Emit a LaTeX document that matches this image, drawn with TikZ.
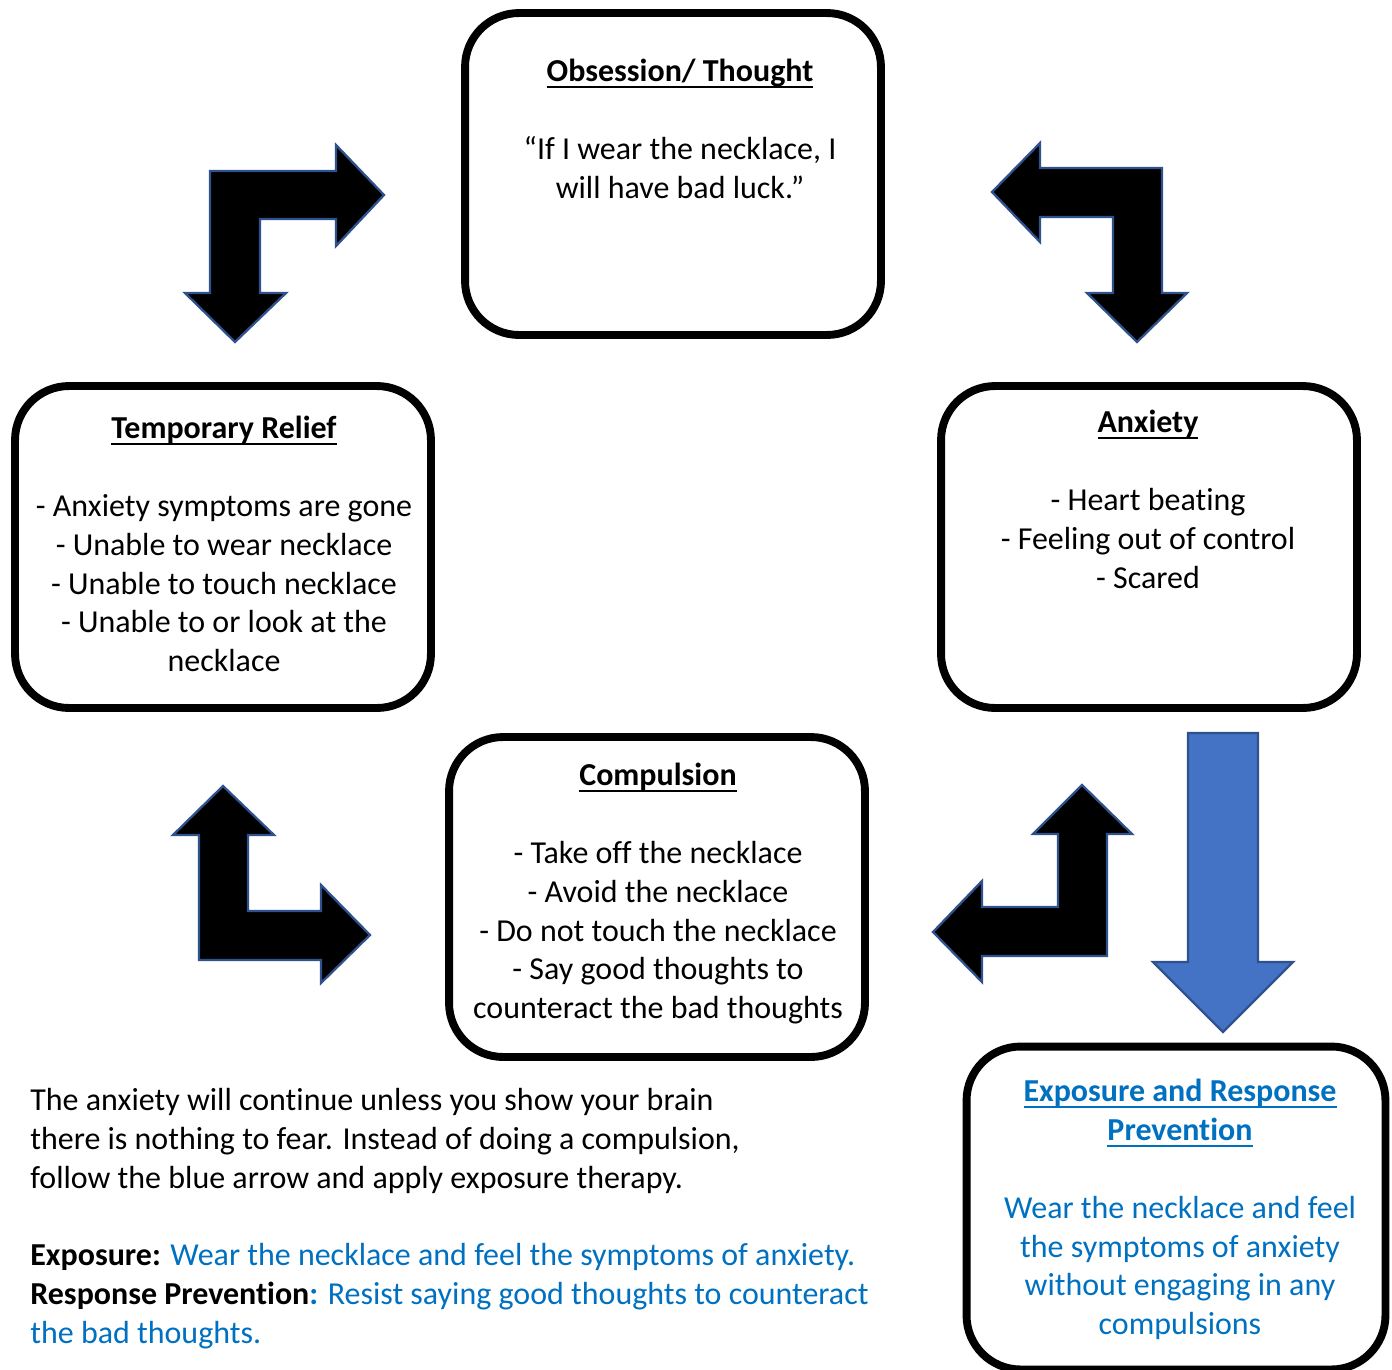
\documentclass[tikz,border=0pt]{standalone}
\usepackage{fontspec}
\setmainfont{Carlito}[Ligatures=NoCommon]
\definecolor{txtblue}{HTML}{0070C0}
\definecolor{arrowline}{HTML}{2F528F}
\definecolor{arrowfill}{HTML}{4472C4}
\newcommand{\undl}[1]{\setbox0=\hbox{#1}\rlap{\rule[-3.4pt]{\wd0}{1.1pt}}\box0}
\begin{document}
\begin{tikzpicture}[x=0.02cm,y=-0.02cm,
  cyclebox/.style={draw=black,line width=4.5pt,rounded corners=1.08cm,inner sep=0pt,
    minimum width=8.32cm,minimum height=6.44cm},
  boxtext/.style={anchor=north,align=center,inner sep=0pt,font=\fontsize{18.2}{22.1}\selectfont},
  bentarrow/.style={fill=black,draw=arrowline,line width=1.3pt,line join=miter},
  bluearrow/.style={fill=arrowfill,draw=arrowline,line width=1.3pt,line join=miter}]
\useasboundingbox (0,0) rectangle (1392,1369);
% boxes
\node[cyclebox] (obs) at (673,174) {};
\node[cyclebox] (anx) at (1149,547) {};
\node[cyclebox] (rel) at (223,547) {};
\node[cyclebox,minimum height=6.40cm] (cmp) at (657,897) {};
\node[cyclebox,minimum width=8.38cm,minimum height=6.46cm] (erp) at (1176,1208) {};
% bent arrows
\filldraw[bentarrow] (210,171) -- (336,171) -- (336,145) -- (384,195) -- (336,246)
  -- (336,219) -- (260,219) -- (260,293) -- (286,293) -- (235,342) -- (185,293)
  -- (210,293) -- cycle;
\filldraw[bentarrow] (1162,168) -- (1040,168) -- (1040,143) -- (992,192) -- (1040,242)
  -- (1040,217) -- (1113,217) -- (1113,293) -- (1087,293) -- (1137,342) -- (1187,293)
  -- (1162,293) -- cycle;
\filldraw[bentarrow] (199,960) -- (199,835) -- (173,835) -- (223,786) -- (274,835)
  -- (248,835) -- (248,911) -- (321,911) -- (321,885) -- (370,935) -- (321,983)
  -- (321,960) -- cycle;
\filldraw[bentarrow] (1107,956) -- (1107,834) -- (1132,834) -- (1082,785) -- (1033,834)
  -- (1058,834) -- (1058,907) -- (982,907) -- (982,881) -- (933,932) -- (982,982)
  -- (982,956) -- cycle;
% blue arrow
\filldraw[bluearrow] (1188,733) -- (1258,733) -- (1258,962) -- (1293,962) -- (1223,1032)
  -- (1153,962) -- (1188,962) -- cycle;
% texts
\node[boxtext] (obs-txt) at (680,59) {\undl{\textbf{Obsession/ Thought}}\\[22.1pt]
  “If I wear the necklace, I\\ will have bad luck.”};
\node[boxtext] (anx-txt) at (1148,410) {\undl{\textbf{Anxiety}}\\[22.1pt]
  - Heart beating\\ - Feeling out of control\\ - Scared};
\node[boxtext] (rel-txt) at (224,416) {\undl{\textbf{Temporary Relief}}\\[22.1pt]
  - Anxiety symptoms are gone\\ - Unable to wear necklace\\ - Unable to touch necklace\\
  - Unable to or look at the\\ necklace};
\node[boxtext] (cmp-txt) at (658,763) {\undl{\textbf{Compulsion}}\\[22.1pt]
  - Take off the necklace\\ - Avoid the necklace\\ - Do not touch the necklace\\
  - Say good thoughts to\\ counteract the bad thoughts};
\node[boxtext,text=txtblue] (erp-txt) at (1180,1079) {\undl{\textbf{Exposure and Response}}\\
  \undl{\textbf{Prevention}}\\[22.1pt]
  Wear the necklace and feel\\ the symptoms of anxiety\\ without engaging in any\\ compulsions};
\node[boxtext,anchor=north west,align=left] (note) at (30,1088) {The anxiety will continue unless you show your brain\\
  there is nothing to fear. Instead of doing a compulsion,\\
  follow the blue arrow and apply exposure therapy.\\[22.1pt]
  \textbf{Exposure:} \textcolor{txtblue}{Wear the necklace and feel the symptoms of anxiety.}\\
  \textbf{Response Prevention\textcolor{txtblue}{:}} \textcolor{txtblue}{Resist saying good thoughts to counteract}\\
  \textcolor{txtblue}{the bad thoughts.}};
\end{tikzpicture}
\end{document}
